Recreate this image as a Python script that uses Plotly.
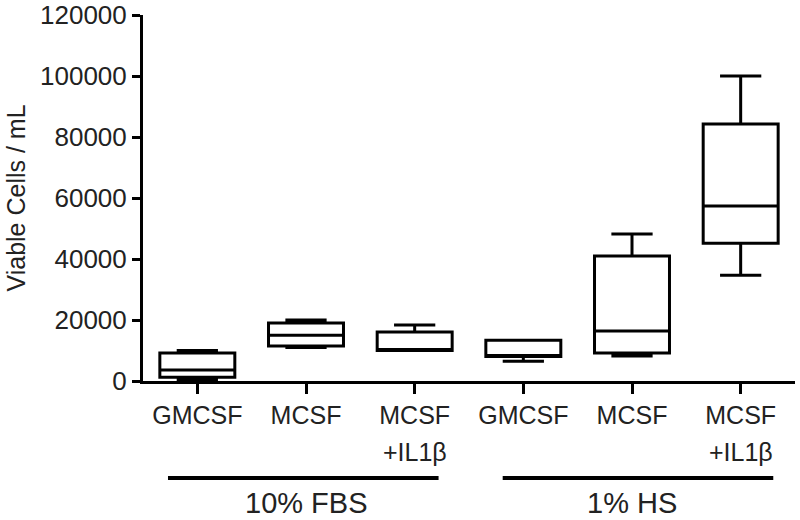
import plotly.graph_objects as go

# Boxplot-Kennwerte
labels = ["GMCSF", "MCSF", "MCSF", "GMCSF", "MCSF", "MCSF"]
sublabels = ["", "", "+IL1β", "", "", "+IL1β"]
groups = ["10% FBS", "1% HS"]
q_min = [500, 11000, 10000, 6500, 8200, 34700]
q1 = [1200, 11500, 10000, 8000, 9200, 45200]
median = [3600, 15000, 10000, 8000, 16400, 57400]
q3 = [9200, 19000, 16100, 13400, 41000, 84300]
q_max = [10000, 20000, 18400, 13400, 48200, 100000]
y_ticks = [0, 20000, 40000, 60000, 80000, 100000, 120000]

pos = list(range(len(labels)))
FONT = "Liberation Sans, Arial, sans-serif"
TXT = "#222"

fig = go.Figure()
fig.add_trace(go.Box(
    x=pos, q1=q1, median=median, q3=q3,
    lowerfence=q_min, upperfence=q_max,
    width=0.69, whiskerwidth=0.55,
    line=dict(color="black", width=3), fillcolor="white",
    showlegend=False, hoverinfo="skip",
))

# zweite Zeile der Kategoriebeschriftung
for p, s in zip(pos, sublabels):
    if s:
        fig.add_annotation(x=p, y=-0.194, xref="x", yref="paper", text=s,
                           showarrow=False, yanchor="middle",
                           font=dict(size=25, color=TXT, family=FONT))

# Gruppenbalken unter den Kategorien
for x0, x1 in [(-0.27, 2.22), (2.81, 5.30)]:
    fig.add_shape(type="line", xref="x", yref="paper", x0=x0, x1=x1,
                  y0=-0.265, y1=-0.265, line=dict(color="black", width=4))
for gx, name in zip([1, 4], groups):
    fig.add_annotation(x=gx, y=-0.333, xref="x", yref="paper", text=name,
                       showarrow=False, yanchor="middle",
                       font=dict(size=29, color=TXT, family=FONT))

fig.update_xaxes(
    range=[-0.5, 5.5], tickvals=pos, ticktext=labels,
    showline=True, linecolor="black", linewidth=3,
    ticks="outside", ticklen=10, tickwidth=3, tickcolor="black",
    showgrid=False, zeroline=False, automargin=False,
    tickfont=dict(size=25, color=TXT, family=FONT),
)
fig.update_yaxes(
    range=[0, 120000], tickvals=y_ticks, ticktext=[str(v) for v in y_ticks],
    showline=True, linecolor="black", linewidth=3,
    ticks="outside", ticklen=8, tickwidth=3, tickcolor="black",
    showgrid=False, zeroline=False, automargin=False,
    ticklabeloverflow="allow",
    tickfont=dict(size=26, color=TXT, family=FONT),
    title=dict(text="Viable Cells / mL", standoff=8,
               font=dict(size=25, color=TXT, family=FONT)),
)
fig.update_layout(
    width=800, height=520,
    margin=dict(l=143, r=5, t=15, b=139),
    plot_bgcolor="white", paper_bgcolor="white",
)
# Standard-Seitenrand des Browsers entfernen
fig.write_html("out.html", config={"displayModeBar": False},
               post_script="document.body.style.margin='0';"
                           "document.body.style.overflow='hidden';")
